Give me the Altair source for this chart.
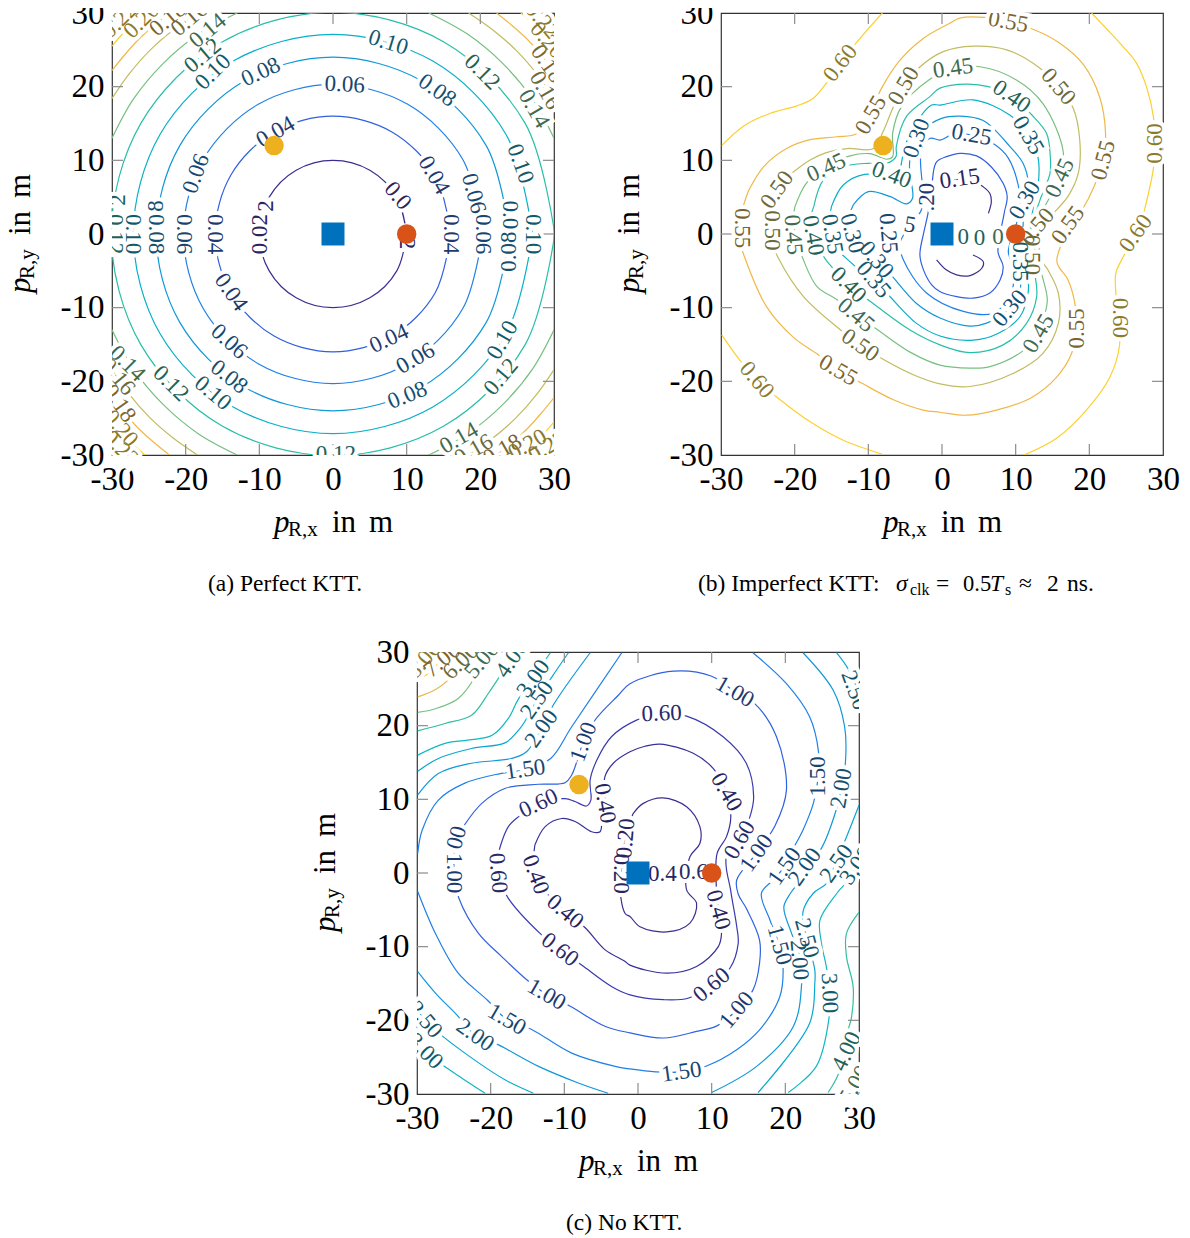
import altair as alt
import pandas as pd

SERIF = "Liberation Serif"
TICKS = [-30, -20, -10, 0, 10, 20, 30]
INNER_TICKS = [-20, -10, 0, 10, 20]
SQUARE = [(0, 0)]
ORANGE = [(10, 0)]
YELLOW = [(-8, 12)]

# ---------- panel (a) ----------
LEVELS_A = ["0.02", "0.04", "0.06", "0.08", "0.10", "0.12", "0.14", "0.16", "0.18", "0.20", "0.22"]
LINE_A = ["#3a2f8f", "#3060e0", "#2080e8", "#1098d8", "#08b0c8", "#28bfa8", "#78c080", "#c0bc60", "#f0b848", "#fcd030", "#fcd030"]
TEXT_A = ["#2a2460", "#1f3a70", "#16456f", "#14506f", "#105a6a", "#1e6258", "#3f6a50", "#6a6a3a", "#7a6530", "#8a7a2a", "#8a7a2a"]
CONTOURS_A = [
    ("0.02", [(10, 0), (8.66, 5), (5, 8.66), (0, 10), (-5, 8.66), (-8.66, 5), (-10, 0), (-8.66, -5), (-5, -8.66), (0, -10), (5, -8.66), (8.66, -5), (10, 0)]),
    ("0.04", [(16, 0), (13.86, 8), (8, 13.86), (0, 16), (-8, 13.86), (-13.86, 8), (-16, 0), (-13.86, -8), (-8, -13.86), (0, -16), (8, -13.86), (13.86, -8), (16, 0)]),
    ("0.06", [(20.3, 0), (17.6, 10.15), (10.15, 17.6), (0, 20.3), (-10.15, 17.6), (-17.6, 10.15), (-20.3, 0), (-17.6, -10.15), (-10.15, -17.6), (0, -20.3), (10.15, -17.6), (17.6, -10.15), (20.3, 0)]),
    ("0.08", [(24, 0), (20.8, 12), (12, 20.8), (0, 24), (-12, 20.8), (-20.8, 12), (-24, 0), (-20.8, -12), (-12, -20.8), (0, -24), (12, -20.8), (20.8, -12), (24, 0)]),
    ("0.10", [(27.1, 0), (23.47, 13.55), (13.55, 23.47), (0, 27.1), (-13.55, 23.47), (-23.47, 13.55), (-27.1, 0), (-23.47, -13.55), (-13.55, -23.47), (0, -27.1), (13.55, -23.47), (23.47, -13.55), (27.1, 0)]),
    ("0.12", [(30.1, 0), (26.07, 15.05), (15.05, 26.07), (0, 30.1), (-15.05, 26.07), (-26.07, 15.05), (-30.1, 0), (-26.07, -15.05), (-15.05, -26.07), (0, -30.1), (15.05, -26.07), (26.07, -15.05), (30.1, 0)]),
    ("0.14", [(-30, 13), (-27.1, 18.3), (-23.1, 23.1), (-18.3, 27.1), (-13, 30)]),
    ("0.14", [(13, 30), (18.3, 27.1), (23.1, 23.1), (27.1, 18.3), (30, 13)]),
    ("0.14", [(30, -13), (27.1, -18.3), (23.1, -23.1), (18.3, -27.1), (13, -30)]),
    ("0.14", [(-13, -30), (-18.3, -27.1), (-23.1, -23.1), (-27.1, -18.3), (-30, -13)]),
    ("0.16", [(-30, 18.4), (-27.7, 21.7), (-24.9, 24.9), (-21.7, 27.7), (-18.4, 30)]),
    ("0.16", [(18.4, 30), (21.7, 27.7), (24.9, 24.9), (27.7, 21.7), (30, 18.4)]),
    ("0.16", [(30, -18.4), (27.7, -21.7), (24.9, -24.9), (21.7, -27.7), (18.4, -30)]),
    ("0.16", [(-18.4, -30), (-21.7, -27.7), (-24.9, -24.9), (-27.7, -21.7), (-30, -18.4)]),
    ("0.18", [(-30, 22.2), (-28.3, 24.3), (-26.4, 26.4), (-24.3, 28.3), (-22.2, 30)]),
    ("0.18", [(22.2, 30), (24.3, 28.3), (26.4, 26.4), (28.3, 24.3), (30, 22.2)]),
    ("0.18", [(30, -22.2), (28.3, -24.3), (26.4, -26.4), (24.3, -28.3), (22.2, -30)]),
    ("0.18", [(-22.2, -30), (-24.3, -28.3), (-26.4, -26.4), (-28.3, -24.3), (-30, -22.2)]),
    ("0.20", [(-30, 25.5), (-27.9, 27.9), (-25.5, 30)]),
    ("0.20", [(25.5, 30), (27.9, 27.9), (30, 25.5)]),
    ("0.20", [(30, -25.5), (27.9, -27.9), (25.5, -30)]),
    ("0.20", [(-25.5, -30), (-27.9, -27.9), (-30, -25.5)]),
]
LABELS_A = [
    ("0.02", -9.9, 0, 270, "0.02"), ("2", -9.1, 3.8, 270, "0.02"), ("0.0", 8.8, 5.2, 50, "0.02"), ("02", 10, -0.5, 90, "0.02"),
    ("0.04", -7.8, 13.85, 330, "0.04"), ("0.04", 13.7, 8, 60, "0.04"), ("0.04", 16, 0, 90, "0.04"), ("0.04", -16, 0, 90, "0.04"),
    ("0.04", -13.85, -7.9, 55, "0.04"), ("0.04", 7.6, -14.2, 335, "0.04"),
    ("0.06", -20.2, 0, 90, "0.06"), ("0.06", -18.6, 8.2, 290, "0.06"), ("0.06", 1.6, 20.3, 3, "0.06"), ("0.06", 19.1, 5.5, 75, "0.06"), ("0.06", 20.3, 0, 90, "0.06"),
    ("0.06", -14.1, -14.6, 42, "0.06"), ("0.06", 11.2, -16.9, 330, "0.06"),
    ("8", -24, 3.8, 270, "0.08"), ("0.08", -24, 0, 90, "0.08"), ("0.08", -9.8, 22, 335, "0.08"), ("0.08", 14.15, 19.5, 35, "0.08"),
    ("0.08", 23.9, -2.4, 270, "0.08"), ("0.0", 24, 2.6, 90, "0.08"), ("0.08", -14.1, -19.4, 38, "0.08"), ("0.08", 10.1, -21.9, 338, "0.08"),
    ("0.10", -27.1, 0, 90, "0.10"), ("0.10", 27.1, 0, 90, "0.10"), ("0.10", -16.3, 22, 315, "0.10"), ("0.10", 7.5, 26, 17, "0.10"),
    ("0.10", 25.45, 9.55, 70, "0.10"), ("0.10", -16.3, -21.6, 40, "0.10"), ("0.10", 23, -14.4, 300, "0.10"),
    ("2", -29.2, 4.6, 270, "0.12"), ("0.12", -29.6, 0, 90, "0.12"), ("0.12", -17.7, 24.2, 320, "0.12"), ("0.12", 20.25, 22, 45, "0.12"),
    ("0.12", -22, -20.3, 45, "0.12"), ("0.12", 22.8, -19.4, 310, "0.12"), ("0.12", 0.4, -29.9, 0, "0.12"),
    ("0.14", -17, 27.6, 320, "0.14"), ("0.14", 27.3, 17, 60, "0.14"), ("0.14", -27.9, -17.6, 45, "0.14"), ("0.14", 17.1, -27.7, 330, "0.14"),
    ("0.16", -19.5, 29.2, 320, "0.16"), ("0.16", 28.8, 19.5, 60, "0.16"), ("0.16", -29.2, -19.4, 50, "0.16"), ("0.16", 19.1, -29.3, 330, "0.16"),
    ("0.18", -22.4, 29.2, 320, "0.18"), ("0.18", 29.1, 23.1, 55, "0.18"), ("0.18", -29, -23, 55, "0.18"), ("0.18", 23, -29.3, 330, "0.18"),
    ("0.20", -26, 29, 315, "0.20"), ("0.20", 29.1, 26.3, 50, "0.20"), ("0.20", -28.8, -26.4, 50, "0.20"), ("0.20", 26.4, -28.6, 330, "0.20"),
    ("0.22", -29, 29, 315, "0.22"), ("0.22", 28.4, 29, 50, "0.22"), ("0.22", -28.8, -29.1, 45, "0.22"), ("0.22", 29.1, -28.9, 330, "0.22"),
]

# ---------- panel (b) ----------
LEVELS_B = ["0.15", "0.20", "0.25", "0.30", "0.35", "0.40", "0.45", "0.50", "0.55", "0.60"]
LINE_B = ["#3a2f8f", "#3060e0", "#2080e8", "#1098d8", "#08b0c8", "#28bfa8", "#78c080", "#c0bc60", "#f0b848", "#fcd030"]
TEXT_B = ["#2a2460", "#1f3a70", "#16456f", "#14506f", "#105a6a", "#1e6258", "#3f6a50", "#6a6a3a", "#7a6530", "#8a7a2a"]
CONTOURS_B = [
    ("0.60", [(-29.9, 12), (-27, 14.6), (-23.3, 16.4), (-19.7, 17.4), (-17.5, 18.4), (-15.9, 20.2), (-13.8, 23.2), (-11.6, 26), (-8.1, 30)]),
    ("0.60", [(20.3, 30), (22.3, 27.9), (24.6, 25.4), (26.4, 23.2), (27.75, 20), (28.7, 15.9), (28.9, 12.3), (28.7, 8.9), (27.5, 3.3), (26.9, 1), (24.6, -3.1), (23.6, -5.3), (23.6, -8), (23.9, -11.4), (24.1, -15.1), (22.8, -19.4), (19.6, -23.9), (15.6, -27.7), (11.6, -29.8), (11, -30)]),
    ("0.60", [(-29.9, -13.7), (-27.4, -17.2), (-25.2, -19.8), (-22.5, -22.1), (-17.9, -25.5), (-13.4, -28), (-8.1, -29.9)]),
    ("0.55", [(-26.3, 5.8), (-24.2, 9.15), (-21.1, 11.6), (-17.9, 12.8), (-14.3, 13.2), (-11.6, 13.6), (-9.8, 16.2), (-8.2, 19.8), (-5.7, 23.6), (-2.55, 26.55), (1.05, 28.6), (2.4, 29.3), (5.8, 29.4), (9, 28.8), (12.6, 27.7), (16, 25.9), (19.2, 23), (21.4, 18.6), (22.2, 13.7), (21.9, 10.05), (20.75, 6.7), (18.9, 3.05), (17.4, 1), (15.6, -3.75), (17.1, -6.2), (18, -9.2), (18.3, -12.8), (17.6, -16.2), (15.6, -19.4), (12, -22.3), (7.4, -23.9), (3.3, -24.6), (-0.27, -24.2), (-2.55, -23.9), (-6.6, -22.5), (-11, -20.2), (-14.1, -18.5), (-16.8, -16.4), (-20.2, -14), (-23.8, -9.9), (-26.7, -3.4), (-27.4, -1), (-27.2, 2.8), (-26.3, 5.8)]),
    ("0.50", [(-20.4, 8.25), (-17.9, 10.05), (-15.7, 11.05), (-12.9, 11.6), (-9.3, 11.6), (-8, 13.9), (-6.8, 16.8), (-5.3, 20), (-3.2, 22.5), (0.16, 24.75), (4.25, 25.5), (8.8, 25), (13.3, 22.5), (15.8, 20), (17.8, 17.1), (18.7, 12.75), (18.5, 8.25), (17.1, 5.1), (14.9, 2.6), (13.3, 1), (13.5, -3.5), (14.4, -4.9), (15.8, -8.05), (15.8, -12.1), (13.7, -16.2), (9.7, -18.9), (3.8, -20.7), (-0.27, -20.35), (-3.9, -19.1), (-8, -17), (-11.1, -15.1), (-13.8, -13), (-18.8, -8.5), (-22.2, -3.3), (-23.1, -1), (-23.8, 2.8), (-22.2, 6.2), (-20.4, 8.25)]),
    ("0.45", [(-19.95, 3.75), (-18.4, 6.9), (-15.7, 9.15), (-12.5, 10.6), (-9.8, 10.9), (-7.5, 10.15), (-6.7, 10.5), (-6.7, 13.7), (-5.5, 17.3), (-1.65, 21), (1.05, 22.35), (5.15, 22.7), (10.1, 20.9), (13.7, 17.7), (16.45, 11.2), (16, 7.6), (14.2, 4.2), (12.8, 1.5), (12.5, -1.5), (13.5, -5.3), (14.3, -9), (13.7, -11.7), (13.1, -13.5), (10.8, -16), (6.5, -18), (3.8, -18.2), (-0.27, -17.8), (-4.4, -16), (-8.9, -12.9), (-11.7, -11), (-14.3, -8.9), (-17, -7.1), (-18.9, -3.3), (-19.7, -1), (-20.2, 1.9), (-19.95, 3.75)]),
    ("0.40", [(-17.4, 3.75), (-16.1, 7.35), (-13.4, 9.15), (-10, 9.6), (-7.5, 9.6), (-6.25, 10.5), (-6.2, 11.9), (-4.8, 16), (-1.65, 18.65), (-0.27, 19.8), (3.35, 20.35), (6.3, 20), (9.45, 18.65), (12.2, 16.15), (14.2, 13.65), (14.7, 10.5), (14.65, 8.2), (13.3, 4.6), (12, 0), (12.6, -5.3), (12.85, -8.5), (11.5, -12.1), (8.3, -15.05), (3.8, -16.1), (-0.27, -15.05), (-4.4, -13), (-10, -8.95), (-12.7, -6.9), (-15.2, -4.2), (-15.9, -3.3), (-17, -1.3), (-17.9, 1.5), (-17.4, 3.75)]),
    ("0.35", [(-15, 3.75), (-13.4, 6.65), (-10.5, 8.1), (-8, 7.8), (-5.7, 7.35), (-5.6, 9.15), (-4.35, 13.65), (-1.4, 17.5), (-0.27, 17.5), (4.25, 18.2), (9.2, 16.15), (11.7, 13.4), (13.05, 10.3), (13.05, 6.65), (12.4, 3.7), (11.9, 0), (11.7, -5.8), (11.7, -7.85), (10.6, -11.2), (7.6, -13.5), (4.25, -14.4), (-0.27, -13.85), (-3.5, -12.1), (-7.75, -7.8), (-9.3, -6.5), (-12, -4.2), (-15, -1), (-15.2, 2.4), (-15, 3.75)]),
    ("0.30", [(-12.05, 3.95), (-10, 5.75), (-7.1, 5.1), (-4.8, 4.1), (-4, 4.85), (-4.35, 8.2), (-4.35, 10.05), (-2.55, 14.1), (-0.05, 15.7), (2.45, 16), (5.6, 15.4), (9.2, 11.9), (11, 9.6), (11.7, 6.9), (11.25, 4.6), (11, 1), (11.2, -3), (10.7, -6.2), (10.6, -7.6), (9.2, -10.1), (6.05, -12.1), (3.8, -12.5), (-0.27, -11.4), (-3.5, -9.4), (-7.3, -5.1), (-8.9, -3.5), (-11.1, -1.3), (-12.7, 1.5), (-12.05, 3.95)]),
    ("0.25", [(-2.77, 7.8), (-2.77, 11.4), (-1.6, 13), (-0.27, 12.75), (1.3, 13.45), (4, 13.45), (7.2, 12.1), (9, 10.3), (10.4, 6.4), (10.6, 3.7), (10, 1), (9, -2.4), (9.65, -4.4), (9.4, -8), (6.95, -10.75), (2.9, -10.5), (-2.1, -8), (-5.25, -3.5), (-5.7, -1.25), (-4.35, 1.2), (-2.8, 3.3), (-2.77, 7.8)]),
    ("0.20", [(-1.2, 8.2), (-0.73, 9.8), (0.62, 10.5), (2.45, 10.95), (4.7, 10.6), (6.7, 9.1), (8.3, 6.9), (8.85, 5.1), (8.4, 2.6), (7.6, -2.4), (8.3, -4.4), (7.9, -6.2), (6.5, -8), (4.25, -8.7), (2, -8.5), (-0.3, -7.8), (-1.4, -6.9), (-2.5, -4.9), (-3, -2.85), (-2.5, 0.1), (-1.9, 2.8), (-1.4, 6.4), (-1.2, 8.2)]),
    ("0.15", [(0.2, 7.2), (2.4, 7.4), (4.5, 7.1), (5.6, 6.4), (6.5, 5.5), (6.7, 4.4), (6.3, 2.8)]),
    ("0.15", [(-0.73, -3.5), (0.62, -4.9), (1.98, -5.55), (3.8, -5.65), (5.4, -4.65), (5.6, -3.75), (4.2, -2.85)]),
]
LABELS_B = [
    ("0.60", -13.8, 23.2, 308, "0.60"), ("0.60", 28.9, 12.3, 270, "0.60"), ("0.60", 26.3, 0.1, 305, "0.60"), ("0.60", 24.1, -11.4, 90, "0.60"), ("0.60", -25.15, -19.8, 50, "0.60"),
    ("0.55", -9.65, 16.15, 300, "0.55"), ("0.55", -27.1, 0.8, 90, "0.55"), ("0.55", 9, 28.8, 10, "0.55"), ("0.55", 21.9, 10, 285, "0.55"), ("0.55", 17.1, 1.2, 305, "0.55"), ("0.55", 18.3, -12.8, 270, "0.55"), ("0.55", -14.1, -18.5, 30, "0.55"),
    ("0.50", -5.2, 20.1, 300, "0.50"), ("0.50", -22.4, 6, 305, "0.50"), ("0.50", -23.1, 0.5, 90, "0.50"), ("0.50", 15.8, 20, 50, "0.50"), ("0.50", 12.9, 1, 310, "0.50"), ("0.50", 12.15, -2.85, 90, "0.50"), ("0.50", -11.1, -15.1, 35, "0.50"),
    ("0.45", -15.7, 9, 335, "0.45"), ("0.45", -20.2, -0.1, 85, "0.45"), ("0.45", 1.5, 22.5, 352, "0.45"), ("0.45", 16, 7.6, 295, "0.45"), ("0.45", 13.1, -13.5, 300, "0.45"), ("0.45", -11.7, -11, 40, "0.45"),
    ("0.40", -6.85, 8, 20, "0.40"), ("0.40", -17.5, -0.2, 80, "0.40"), ("0.40", 9.45, 18.65, 35, "0.40"), ("0.40", -12.7, -6.9, 45, "0.40"),
    ("0.35", -14.9, 0, 80, "0.35"), ("0.35", 11.7, 13.4, 60, "0.35"), ("0.35", 10.6, -3.75, 90, "0.35"), ("0.35", -9.3, -6.2, 50, "0.35"),
    ("0.30", -3.45, 13, 290, "0.30"), ("0.30", -12.2, 0.1, 75, "0.30"), ("0.30", 11.25, 4.6, 300, "0.30"), ("0.30", 9.2, -10.1, 310, "0.30"), ("0.30", -8.9, -3.5, 50, "0.30"),
    ("0.25", -7.3, 0.1, 85, "0.25"), ("5", -4.35, 1.25, 10, "0.25"), ("0.25", 4, 13.45, 10, "0.25"),
    (".20", -2, 5, 270, "0.20"), ("0.15", 2.4, 7.5, 352, "0.15"),
    ("0", 2.9, -0.45, 0, "0.40"), ("0", 5.1, -0.6, 0, "0.40"), ("0", 7.6, -0.45, 0, "0.45"),
]

# ---------- panel (c) ----------
LEVELS_C = ["0.20", "0.40", "0.60", "1.00", "1.50", "2.00", "2.50", "3.00", "4.00", "5.00", "6.00", "7.00", "8.00"]
LINE_C = ["#3a2f8f", "#38309a", "#3a3ab0", "#2f62e0", "#1f80e8", "#1098d8", "#08a8d0", "#10b8c0", "#30bfa0", "#78c080", "#e8b850", "#fcd030", "#fcd030"]
TEXT_C = ["#2a2460", "#262460", "#28296a", "#1c3a70", "#16456f", "#14506f", "#125568", "#105a6a", "#1e6258", "#3f6a50", "#6a6a3a", "#7a6530", "#8a7a2a"]
CONTOURS_C = [
    ("7.00", [(-29.9, 26.3), (-28.4, 27.1), (-26.6, 28.9), (-24.8, 29.8)]),
    ("6.00", [(-29.9, 23.9), (-27.5, 24.9), (-25.4, 26.6), (-24.1, 28.7), (-23, 30)]),
    ("5.00", [(-29.9, 21.8), (-27.5, 22.3), (-24.4, 23.7), (-22.2, 26.5), (-21.2, 28.9), (-20.3, 30)]),
    ("4.00", [(-29.9, 19.3), (-26.2, 20.3), (-22.6, 21.4), (-20.3, 24.4), (-18.5, 27.1), (-17.1, 29.1), (-16.5, 29.9)]),
    ("4.00", [(30.1, -5.2), (28.3, -8.2), (28.3, -11.35), (29.2, -15.4), (29, -19.5), (28.3, -22.2), (28.3, -24.2), (26.95, -27.85), (25.8, -29.8)]),
    ("3.00", [(-29.9, 16), (-26.2, 17.6), (-22.6, 18.1), (-19.8, 18.7), (-17.6, 21), (-16.3, 23.5), (-14.2, 26.6), (-11.9, 29.9)]),
    ("3.00", [(30.1, 2.2), (29.65, 1.3), (28.75, -0.7), (27, -2.75), (24.7, -6.4), (24.9, -9.5), (25.6, -12.9), (26, -16.3), (25.9, -19.9), (24.2, -26.25), (20.4, -29.8)]),
    ("3.00", [(-20.75, -29.9), (-23.9, -27.85), (-27.2, -25.6), (-28.9, -24.2), (-29.9, -23.3)]),
    ("2.50", [(-29.9, 13.8), (-27.1, 15.55), (-22.6, 16.9), (-18, 17.7), (-16.2, 19.4), (-15.4, 20.5), (-13.7, 23.5), (-11.7, 26.6), (-9.45, 29.9)]),
    ("2.50", [(26.95, 29.9), (28.5, 27.75), (29.65, 25.3), (30.2, 24)]),
    ("2.50", [(30, 9.2), (28.3, 4.9), (26.95, 1.75), (25.6, -1.4), (23.8, -2.75), (22.4, -5.25), (22.9, -8.85), (24, -13.15), (24, -15), (23.3, -20.4), (16.3, -29.8)]),
    ("2.50", [(-14.2, -29.9), (-18, -28.1), (-23.5, -24.45), (-27.3, -21.5), (-28.9, -19.9), (-29.9, -18.8)]),
    ("2.00", [(-29.9, 10.6), (-27.1, 13.5), (-22.6, 14.9), (-17.1, 15.55), (-15.1, 16.5), (-13.1, 19.6), (-11.5, 22.8), (-6.5, 29.9)]),
    ("2.00", [(22.4, 29.9), (26.5, 24.8), (28.05, 19.85), (28.15, 14.9), (27.6, 11.5), (26.7, 7.9), (24.75, 3.1), (22.65, 0.85), (22, -0.95), (20.7, -2.75), (19.8, -4.6), (20.85, -8.2), (22, -11.35), (22.2, -15.2), (21.1, -20.8), (16.1, -26.25), (10, -29.8)]),
    ("2.00", [(-4.05, -29.9), (-8.1, -28.5), (-13.5, -26.25), (-19, -23.3), (-22.1, -22), (-24.6, -19.25), (-27.5, -16.3), (-29.9, -13.4)]),
    ("1.50", [(-29.9, 2.7), (-29.3, 5.8), (-27.1, 9.9), (-23.5, 12.2), (-18.7, 13.5), (-15.3, 14.05), (-11.85, 15.55), (-9, 19.85), (-2.2, 29.9)]),
    ("1.50", [(15.6, 29.9), (20.15, 25.7), (23.3, 21.2), (24.5, 16.45), (24.45, 13.1), (23.8, 9.45), (22.4, 5.85), (20.9, 3), (19.9, 0.9), (18.35, -0.95), (16.75, -2.75), (17.9, -6.35), (19.25, -10), (19.7, -13.15), (19.25, -16.8), (16.5, -21.3), (13.4, -24), (9.3, -26.2), (5.9, -27), (2.4, -27), (-1.09, -26.6), (-3.1, -26.25), (-9, -24.45), (-14.5, -21.2), (-17.8, -19.9), (-20.4, -17.3), (-24.4, -13.6), (-27.5, -8.2), (-29.9, -2.5)]),
    ("1.00", [(-23.4, 6.75), (-21.2, 9.45), (-18, 11.5), (-13.5, 12.05), (-9.9, 12.25), (-9, 13.3), (-8.55, 14.4), (-7.4, 17.8), (-5.8, 20.8), (-2.7, 24.1), (-1.09, 25.7), (4.8, 27.4), (10, 26.7), (13.15, 24.6), (15.85, 23), (18.8, 18.5), (20.15, 11.25), (18.6, 6.4), (16.1, 2.7), (13.4, -0.95), (13.6, -2.85), (14.7, -4.8), (16.5, -9.1), (16.5, -12.25), (15.6, -15.9), (13.4, -18.6), (10.7, -20.75), (7.95, -21.5), (3.45, -22.4), (-1.09, -21.7), (-4.5, -20.8), (-9.2, -18.1), (-12.4, -16.5), (-15.1, -14.5), (-18.5, -11.35), (-21.65, -8.2), (-24.3, -3.45), (-24.8, -1.17), (-25, 0.9), (-24.6, 4.5), (-23.4, 6.75)]),
    ("0.60", [(-18.7, 3.6), (-17.6, 6.3), (-16.2, 7.65), (-13.5, 9.45), (-9.9, 10.1), (-8.55, 9.7), (-7, 9.1), (-6.4, 9.9), (-6.5, 12.6), (-5.6, 15.3), (-3.6, 18.5), (-0.2, 20.75), (3.2, 21.65), (6.6, 21.3), (11.55, 18.5), (14.7, 14.9), (15.7, 10.35), (15.2, 7.65), (13.8, 4.5), (12, 2.2), (12.6, -2.5), (13.4, -7.25), (13.6, -9.55), (12.5, -12.9), (10, -15.2), (6.8, -17), (3.45, -17.2), (-1.09, -16.55), (-3.6, -15.4), (-7.65, -12.5), (-10.6, -10.4), (-13.3, -8.2), (-17.6, -3.45), (-18.7, -1.2), (-19.2, 0.9), (-18.7, 3.6)]),
    ("0.40", [(-14, 3.8), (-12.6, 6.3), (-10.35, 7.4), (-8.55, 7), (-6.3, 5.6), (-5.15, 5.6), (-4.9, 7), (-4.5, 9.45), (-4.5, 13.05), (-3.35, 14.9), (-1.09, 16.45), (0.94, 17.2), (2.98, 17.5), (7.5, 16.25), (10.2, 14.2), (12, 11), (12.6, 7.65), (12, 4.9), (10.75, 2.7), (10.6, -1), (10.9, -5), (11.35, -8), (10.9, -10), (7.95, -12.7), (3.9, -13.6), (-1.09, -12.5), (-1.75, -12), (-4.5, -10.4), (-7.2, -7.4), (-9.9, -5.25), (-13.75, -0.95), (-14.2, 0.9), (-14, 3.8)]),
    ("0.20", [(-0.64, 8.1), (0.72, 9.45), (3.4, 10.2), (6.6, 9), (8.4, 6.3), (8.4, 4), (7.05, 2.2), (6.6, -2.3), (7.95, -4.1), (7.05, -6.8), (3.9, -8), (0.27, -7.3), (-1.09, -5.9), (-1.75, -5.5), (-2.45, -2.1), (-2.2, -0.05), (-1.75, 4.9), (-0.64, 8.1)]),
]
LABELS_C = [
    ("8.00", -29.1, 28.9, 310, "8.00"), ("7.00", -26.6, 28.9, 320, "7.00"), ("6.00", -24.1, 28.7, 315, "6.00"), ("5.00", -21.2, 28.9, 310, "5.00"), ("5.00", 29.4, -28.75, 300, "5.00"),
    ("4.00", -17.1, 29.1, 305, "4.00"), ("4.00", 28.3, -24.2, 295, "4.00"),
    ("3.00", -14.2, 26.4, 305, "3.00"), ("3.00", 29.65, 1, 305, "3.00"), ("3.00", 26, -16.3, 88, "3.00"), ("3.00", -28.9, -24.2, 45, "3.00"),
    ("2.50", -13.7, 23.5, 305, "2.50"), ("2.50", 29.4, 24.8, 70, "2.50"), ("2.50", 26.95, 1.3, 305, "2.50"), ("2.50", 22.9, -8.85, 75, "2.50"), ("2.50", -28.9, -19.9, 50, "2.50"),
    ("2.00", -13.1, 19.6, 305, "2.00"), ("2.00", 27.6, 11.5, 280, "2.00"), ("2.00", 22.65, 0.85, 305, "2.00"), ("2.00", 21.9, -11.8, 85, "2.00"), ("2.00", -22.1, -22, 35, "2.00"),
    ("1.50", -15.3, 14.05, 352, "1.50"), ("1.50", 24.45, 13.1, 270, "1.50"), ("1.50", 19.9, 0.9, 305, "1.50"), ("1.50", 19.2, -9.8, 75, "1.50"), ("1.50", 5.9, -27, 352, "1.50"), ("1.50", -17.8, -19.9, 30, "1.50"),
    ("1.00", -7.4, 17.8, 290, "1.00"), ("00", -24.6, 4.8, 285, "1.00"), ("1.00", -25, 0, 90, "1.00"), ("1.00", 13.15, 24.6, 30, "1.00"), ("1.00", 16.1, 2.7, 305, "1.00"), ("1.00", 13.4, -18.6, 310, "1.00"), ("1.00", -12.4, -16.5, 30, "1.00"),
    ("0.60", -13.5, 9.45, 335, "0.60"), ("0.60", -19, 0, 85, "0.60"), ("0.60", 3.2, 21.65, 358, "0.60"), ("0.60", 13.8, 4.5, 300, "0.60"), ("0.60", 10, -15.2, 320, "0.60"), ("0.60", -10.6, -10.4, 38, "0.60"), ("0.6", 7.5, 0.1, 0, "0.60"),
    ("0.40", -4.5, 9.45, 80, "0.40"), ("0.40", -13.9, -0.2, 70, "0.40"), ("0.40", 12, 11, 60, "0.40"), ("0.40", 10.9, -5, 75, "0.40"), ("0.40", -9.9, -5.25, 40, "0.40"), ("0.4", 3.3, -0.1, 0, "0.40"),
    ("0.20", -1.65, 4.7, 275, "0.20"), ("0.20", -2.3, -0.1, 90, "0.20"),
]

W = H = 442
TICK_LEN = 11
SCALE = alt.Scale(domain=[-30, 30], nice=False, zero=False)


def axis():
    return alt.Axis(values=TICKS, title=None, tickSize=0, domain=False, grid=False,
                    labelExpr="datum.value + ''", labelFont=SERIF, labelFontSize=33,
                    labelColor="#000", labelPadding=8, labelFlush=False, labelOverlap=False)


def X(field):
    return alt.X(field, scale=SCALE, axis=axis())


def Y(field):
    return alt.Y(field, scale=SCALE, axis=axis())


def contour_frame(contours):
    rows = []
    for seg, (level, pts) in enumerate(contours):
        for i, (x, y) in enumerate(pts):
            rows.append({"level": level, "seg": seg, "i": i, "x": x, "y": y})
    return pd.DataFrame(rows)


def label_frame(labels):
    return pd.DataFrame(labels, columns=["t", "x", "y", "a", "level"])


def note(text, px, py, size, italic=False, angle=0):
    df = pd.DataFrame({"t": [text]})
    return alt.Chart(df).mark_text(font=SERIF, fontSize=size, fontStyle="italic" if italic else "normal",
                                   align="left", baseline="alphabetic", angle=angle, color="#000").encode(
        text="t:N", x=alt.value(px), y=alt.value(py))


def axis_titles(sub_x, sub_y):
    base = 519
    left = -82
    mid = W / 2
    return [
        note("p", mid - 59, base, 31, True),
        note(sub_x, mid - 45, base + 4, 21),
        note("in", mid - 1, base, 31),
        note("m", mid + 36, base, 31),
        note("p", left, H / 2 + 59, 31, True, 270),
        note(sub_y, left + 4, H / 2 + 45, 21, False, 270),
        note("in", left, H / 2 + 1, 31, False, 270),
        note("m", left, H / 2 - 36, 31, False, 270),
    ]


def marker(points, shape, color, size):
    df = pd.DataFrame(points, columns=["x", "y"])
    return alt.Chart(df).mark_point(shape=shape, filled=True, color=color, size=size, opacity=1).encode(
        x=X("x:Q"), y=Y("y:Q"))


def panel(contours, labels, levels, line_colors, text_colors, notes):
    cdf = contour_frame(contours)
    ldf = label_frame(labels)
    lines = alt.Chart(cdf).mark_line(interpolate="catmull-rom", strokeWidth=1.2, clip=True).encode(
        x=X("x:Q"), y=Y("y:Q"),
        detail="seg:N", order="i:Q",
        color=alt.Color("level:N", scale=alt.Scale(domain=levels, range=line_colors), legend=None),
    )
    text_enc = dict(x=X("x:Q"), y=Y("y:Q"), text="t:N", angle=alt.Angle("a:Q", scale=None))
    halo = alt.Chart(ldf).mark_text(font=SERIF, fontSize=23, stroke="white", strokeWidth=8, fill="white",
                                    align="center", baseline="middle").encode(**text_enc)
    text = alt.Chart(ldf).mark_text(font=SERIF, fontSize=23, clip=True,
                                    align="center", baseline="middle").encode(
        color=alt.Color("level:N", scale=alt.Scale(domain=levels, range=text_colors), legend=None), **text_enc)
    tdf = pd.DataFrame({"v": INNER_TICKS})
    tick_mark = alt.Chart(tdf).mark_rule(color="#8c8c8c", strokeWidth=1.2)
    ticks = [
        tick_mark.encode(x=X("v:Q"), y=alt.value(H), y2=alt.value(H - TICK_LEN)),
        tick_mark.encode(x=X("v:Q"), y=alt.value(0), y2=alt.value(TICK_LEN)),
        tick_mark.encode(y=Y("v:Q"), x=alt.value(0), x2=alt.value(TICK_LEN)),
        tick_mark.encode(y=Y("v:Q"), x=alt.value(W), x2=alt.value(W - TICK_LEN)),
    ]
    markers = [
        marker(SQUARE, "square", "#0072BD", 529),
        marker(ORANGE, "circle", "#D95319", 380),
        marker(YELLOW, "circle", "#EDB120", 380),
    ]
    return (alt.layer(lines, *ticks, halo, text, *markers, *notes)
            .resolve_scale(color="independent")
            .properties(width=W, height=H))


cap = 578
notes_a = axis_titles("R,x", "R,y") + [note("(a) Perfect KTT.", 96, cap, 23.5)]
notes_b = axis_titles("R,x", "R,y") + [
    note("(b) Imperfect KTT:", -23, cap, 23.5),
    note("\u03c3", 175, cap, 23.5, True),
    note("clk", 189, cap + 4, 16),
    note("=", 215, cap, 23.5),
    note("0.5", 242, cap, 22.5),
    note("T", 269, cap, 23.5, True),
    note("s", 284, cap + 4, 16),
    note("\u2248", 298, cap, 23.5),
    note("2", 326, cap, 23.5),
    note("ns.", 346, cap, 23.5),
]
notes_c = axis_titles("R,x", "R,y") + [note("(c) No KTT.", 149, cap, 23.5)]

chart_a = panel(CONTOURS_A, LABELS_A, LEVELS_A, LINE_A, TEXT_A, notes_a)
chart_b = panel(CONTOURS_B, LABELS_B, LEVELS_B, LINE_B, TEXT_B, notes_b)
chart_c = panel(CONTOURS_C, LABELS_C, LEVELS_C, LINE_C, TEXT_C, notes_c)

spacer = alt.Chart(pd.DataFrame({"v": [0]})).mark_point(opacity=0).encode(
    x=alt.value(0), y=alt.value(0)).properties(width=305, height=H, view=alt.ViewConfig(stroke="transparent"))

row1 = alt.hconcat(chart_a, chart_b, spacing=167, bounds="flush")
row2 = alt.hconcat(spacer, chart_c, spacing=0, bounds="flush")
chart = (alt.vconcat(row1, row2, spacing=639, bounds="flush")
         .properties(padding={"left": -4, "top": -12, "right": 0, "bottom": 0})
         .configure_view(stroke="#333333", strokeWidth=1.2))

chart.save("out.html", embed_options={"renderer": "svg", "actions": False, "defaultStyle": "svg{overflow:visible}"})
